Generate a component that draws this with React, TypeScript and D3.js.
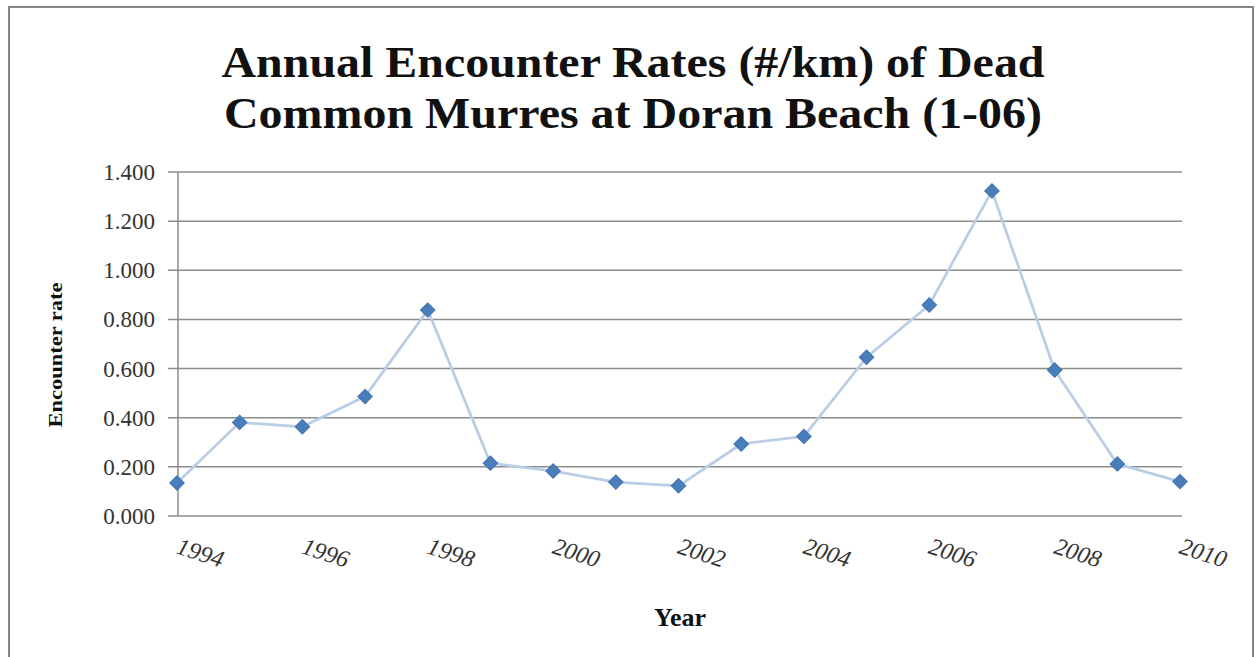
import React from "react";
import * as d3 from "d3";

const years = [1994, 1995, 1996, 1997, 1998, 1999, 2000, 2001, 2002, 2003, 2004, 2005, 2006, 2007, 2008, 2009, 2010];
const rates = [0.134, 0.381, 0.363, 0.486, 0.838, 0.215, 0.183, 0.138, 0.123, 0.293, 0.324, 0.646, 0.859, 1.323, 0.594, 0.212, 0.14];
const yTicks = [0, 0.2, 0.4, 0.6, 0.8, 1.0, 1.2, 1.4];
const xTickLabels = [1994, 1996, 1998, 2000, 2002, 2004, 2006, 2008, 2010];
const titleLines = ["Annual Encounter Rates (#/km) of Dead", "Common Murres at Doran Beach (1-06)"];
const yAxisTitle = "Encounter rate";
const xAxisTitle = "Year";

const W = 1255;
const H = 657;
const FONT = "'Liberation Serif', 'Times New Roman', Tinos, Times, serif";

export default function App() {
  const x = d3.scalePoint<number>().domain(years).range([177, 1180]);
  const y = d3.scaleLinear().domain([0, 1.4]).range([516, 172]);
  const line = d3
    .line<number>()
    .x((_, i) => x(years[i]) as number)
    .y((d) => y(d));
  const marker = d3.symbol().type(d3.symbolSquare).size(105)();

  return (
    <svg
      width={W}
      height={H}
      style={{ position: "absolute", left: 0, top: 0, background: "#fff" }}
    >
      <rect x={0} y={0} width={W} height={H} fill="#fff" />
      <rect x={9} y={7} width={1244} height={680} fill="#fff" stroke="#858585" strokeWidth={2} />

      {/* title */}
      {titleLines.map((t, i) => (
        <text
          key={i}
          x={633}
          y={77 + i * 51}
          textAnchor="middle"
          fontFamily={FONT}
          fontWeight="bold"
          fontSize={45}
          fill="#111"
          textLength={i === 0 ? 823 : 818}
          lengthAdjust="spacingAndGlyphs"
        >
          {t}
        </text>
      ))}

      {/* gridlines */}
      {yTicks.map((t) => (
        <line key={t} x1={168} x2={1182} y1={y(t)} y2={y(t)} stroke="#8c8c8c" strokeWidth={1.5} />
      ))}
      {/* y axis line */}
      <line x1={178} x2={178} y1={y(1.4)} y2={y(0)} stroke="#8c8c8c" strokeWidth={1.5} />

      {/* y tick labels */}
      {yTicks.map((t) => (
        <text
          key={t}
          x={155}
          y={y(t)}
          dy="0.35em"
          textAnchor="end"
          fontFamily={FONT}
          fontSize={23}
          fill="#333"
        >
          {t.toFixed(3)}
        </text>
      ))}

      {/* x tick labels */}
      {xTickLabels.map((yr) => (
        <text
          key={yr}
          transform={`translate(${(x(yr) as number) - 2},553) rotate(18)`}
          textAnchor="start"
          fontFamily={FONT}
          fontStyle="italic"
          fontSize={24}
          fill="#333"
        >
          {yr}
        </text>
      ))}

      {/* line */}
      <path d={line(rates) || ""} fill="none" stroke="#b9cde5" strokeWidth={2.75} strokeLinejoin="round" />
      {rates.map((v, i) => (
        <path
          key={i}
          d={marker || ""}
          transform={`translate(${x(years[i])},${y(v)}) rotate(45)`}
          fill="#4a7ebb"
          stroke="#3f72b0"
          strokeWidth={1}
        />
      ))}

      {/* axis titles */}
      <text
        transform="translate(62,355) rotate(-90)"
        textAnchor="middle"
        fontFamily={FONT}
        fontWeight="bold"
        fontSize={19}
        fill="#111"
        textLength={145}
        lengthAdjust="spacingAndGlyphs"
      >
        {yAxisTitle}
      </text>
      <text
        x={680}
        y={626}
        textAnchor="middle"
        fontFamily={FONT}
        fontWeight="bold"
        fontSize={26}
        fill="#111"
      >
        {xAxisTitle}
      </text>
    </svg>
  );
}
